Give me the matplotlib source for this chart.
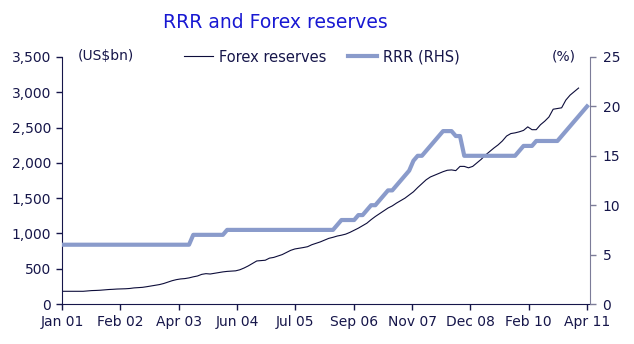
import numpy as np
import matplotlib
matplotlib.use("Agg")
import matplotlib.pyplot as plt
from matplotlib.ticker import FuncFormatter

# Monthly data, Jan 2001 onwards
forex_reserves = [
    180, 180, 180, 180, 180, 180, 185, 190, 192, 195, 200, 205,
    208, 212, 214, 216, 220, 228, 232, 236, 245, 255, 265, 275,
    290, 310, 330, 345, 355, 360, 370, 385, 397, 420, 430, 425,
    435, 445, 455, 462, 466, 470, 485, 510, 540, 575, 610, 615,
    620, 650, 660, 680, 700, 730, 760, 780, 790, 800, 812, 840,
    860, 880, 905, 930, 945, 963, 975, 990, 1015, 1045, 1075, 1110,
    1145, 1195, 1240, 1280, 1320, 1360, 1390, 1430, 1465, 1500, 1545, 1590,
    1650, 1705, 1760, 1800, 1825, 1850, 1875, 1895, 1900, 1890, 1950, 1950,
    1930, 1950, 2000, 2050, 2110, 2160, 2210, 2255, 2310, 2380, 2415, 2425,
    2440, 2460, 2510, 2470, 2470, 2540, 2590, 2650, 2760, 2770, 2780, 2890,
    2960, 3010, 3060,
]
rrr = (
    [6.0] * 31
    + [7.0] * 8
    + [7.5] * 26
    + [8.0, 8.5, 8.5, 8.5, 8.5, 9.0, 9.0, 9.5, 10.0, 10.0, 10.5, 11.0, 11.5,
       11.5, 12.0, 12.5, 13.0, 13.5, 14.5, 15.0, 15.0, 15.5, 16.0, 16.5,
       17.0, 17.5, 17.5, 17.5, 17.0, 17.0, 15.0]
    + [15.0] * 12
    + [15.5, 16.0, 16.0, 16.0, 16.5, 16.5, 16.5, 16.5, 16.5, 16.5, 17.0,
       17.5, 18.0, 18.5, 19.0, 19.5, 20.0]
)
tick_labels = ["Jan 01", "Feb 02", "Apr 03", "Jun 04", "Jul 05",
               "Sep 06", "Nov 07", "Dec 08", "Feb 10", "Apr 11"]

navy = "#16164a"
rrr_color = "#8a9bcb"

fig = plt.figure(figsize=(6.34, 3.44), dpi=100)
ax = fig.add_axes([62 / 634, 1 - 304 / 344, 528 / 634, 247 / 344])
ax2 = ax.twinx()

m_fx = np.arange(len(forex_reserves))
m_rrr = np.arange(len(rrr))
l1, = ax.plot(m_fx, forex_reserves, color="#0d0d3a", lw=0.8,
              label="Forex reserves")
l2, = ax2.plot(m_rrr, rrr, color=rrr_color, lw=3.0,
               solid_joinstyle="round", label="RRR (RHS)")

n_last = len(rrr) - 1
ax.set_xlim(0, n_last + 0.7)
ax.set_ylim(0, 3500)
ax2.set_ylim(0, 25)
ax.set_yticks(np.arange(0, 3501, 500))
ax2.set_yticks(np.arange(0, 26, 5))
ax.yaxis.set_major_formatter(FuncFormatter(lambda v, p: f"{int(v):,}"))
ax.set_xticks(np.linspace(0, n_last, len(tick_labels)))
ax.set_xticklabels(tick_labels)

for a in (ax, ax2):
    a.spines["top"].set_visible(False)
    a.tick_params(labelsize=10, colors=navy, length=4, width=1, pad=4)
ax.spines["right"].set_visible(False)
ax2.spines["left"].set_visible(False)
ax2.spines["bottom"].set_visible(False)
ax.spines["left"].set_color(navy)
ax.spines["bottom"].set_color(navy)
ax2.spines["right"].set_color("#7c7c98")
ax2.tick_params(axis="y", colors="#7c7c98", labelcolor=navy, pad=5)

fig.text(275 / 634, 1 - 22 / 344, "RRR and Forex reserves", color="#1818d2",
         fontsize=13.5, ha="center", va="center")
fig.text(78 / 634, 1 - 56 / 344, "(US$bn)", color=navy, fontsize=10,
         ha="left", va="center")
fig.text(576 / 634, 1 - 56 / 344, "(%)", color=navy, fontsize=10,
         ha="right", va="center")

leg = ax2.legend(handles=[l1, l2], loc="center left", ncol=2, frameon=False,
                 bbox_to_anchor=((184 - 62) / 528, 1.0), borderaxespad=0,
                 borderpad=0, fontsize=10.5, handlelength=2.0,
                 handletextpad=0.4, columnspacing=1.5)
for t in leg.get_texts():
    t.set_color(navy)

fig.savefig("out.png", dpi=100)
